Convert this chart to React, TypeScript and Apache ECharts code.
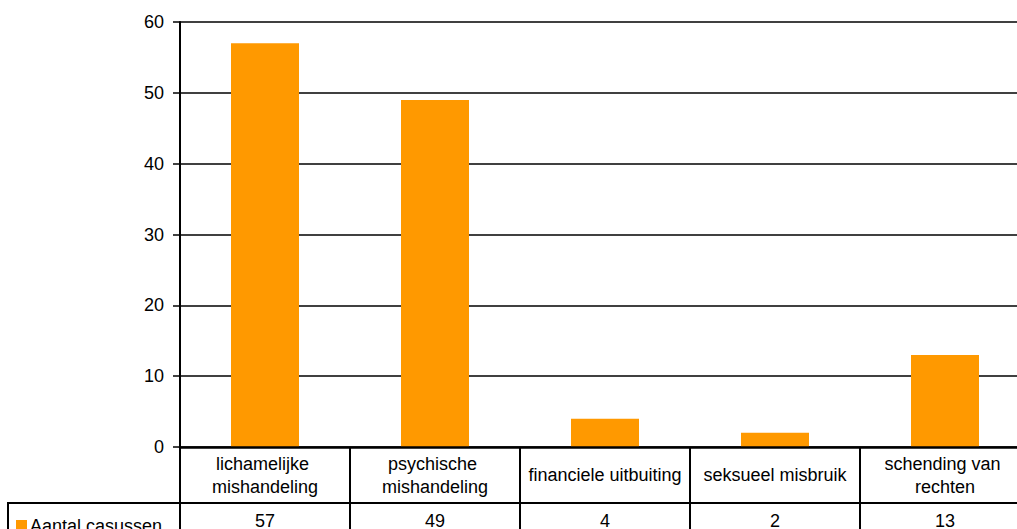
import React, { useEffect, useRef } from "react";
import * as echarts from "echarts";

const categories = [
  "lichamelijke mishandeling",
  "psychische mishandeling",
  "financiele uitbuiting",
  "seksueel misbruik",
  "schending van rechten",
];
const values = [57, 49, 4, 2, 13];
const seriesName = "Aantal casussen";
const yTicks = { min: 0, max: 60, interval: 10 };

const FONT = "'Liberation Sans', Arial, sans-serif";

export default function App() {
  const ref = useRef<HTMLDivElement>(null);
  useEffect(() => {
    if (!ref.current) return;
    const chart = echarts.init(ref.current, undefined, { renderer: "svg" });
    chart.setOption({
      animation: false,
      backgroundColor: "#ffffff",
      textStyle: { fontFamily: FONT, color: "#000" },
      grid: { left: 180, top: 22, width: 850, height: 425, containLabel: false },
      legend: {
        left: 14,
        top: 513,
        icon: "rect",
        itemWidth: 11,
        itemHeight: 12,
        itemGap: 4,
        padding: 2,
        textStyle: { fontSize: 18, color: "#000", fontFamily: FONT, lineHeight: 22, padding: [0, 0, 0, -2] },
        data: [seriesName],
      },
      xAxis: [
        {
          type: "category",
          data: categories,
          position: "bottom",
          boundaryGap: true,
          axisLine: { show: true, lineStyle: { color: "#000", width: 2.5 } },
          axisTick: { show: true, interval: 0, length: 100, lineStyle: { color: "#000", width: 2 } },
          axisLabel: {
            interval: 0,
            fontSize: 18,
            color: "#000",
            fontFamily: FONT,
            lineHeight: 23,
            margin: 28,
            verticalAlign: "middle",
            width: 162,
            overflow: "break",
          },
          splitLine: { show: false },
          z: 5,
        },
        {
          type: "category",
          data: categories,
          position: "bottom",
          offset: 56,
          boundaryGap: true,
          axisLine: { show: true, lineStyle: { color: "#000", width: 2 } },
          axisTick: { show: false },
          axisLabel: {
            interval: 0,
            fontSize: 18,
            color: "#000",
            fontFamily: FONT,
            margin: 18,
            verticalAlign: "middle",
            formatter: (_v: string, i: number) => String(values[i]),
          },
          splitLine: { show: false },
        },
      ],
      yAxis: {
        type: "value",
        min: yTicks.min,
        max: yTicks.max,
        interval: yTicks.interval,
        axisLine: { show: true, lineStyle: { color: "#000", width: 2 } },
        axisTick: { show: true, length: 7, lineStyle: { color: "#000", width: 1.5 } },
        axisLabel: { fontSize: 18, color: "#000", fontFamily: FONT, margin: 16 },
        splitLine: { show: true, lineStyle: { color: "#000", width: 1.5 } },
      },
      graphic: [
        {
          type: "line",
          shape: { x1: 8, y1: 503, x2: 181, y2: 503 },
          style: { stroke: "#000", lineWidth: 2 },
        },
        {
          type: "line",
          shape: { x1: 8, y1: 502, x2: 8, y2: 560 },
          style: { stroke: "#000", lineWidth: 2 },
        },
      ],
      series: [
        {
          name: seriesName,
          type: "bar",
          data: values,
          barWidth: "40%",
          itemStyle: { color: "#FF9900" },
          xAxisIndex: 0,
        },
      ],
    });
    return () => chart.dispose();
  }, []);
  return (
    <div style={{ position: "fixed", left: 0, top: 0, width: 1017, height: 529, overflow: "hidden", background: "#fff" }}>
      <div ref={ref} style={{ width: 1045, height: 560 }} />
    </div>
  );
}
